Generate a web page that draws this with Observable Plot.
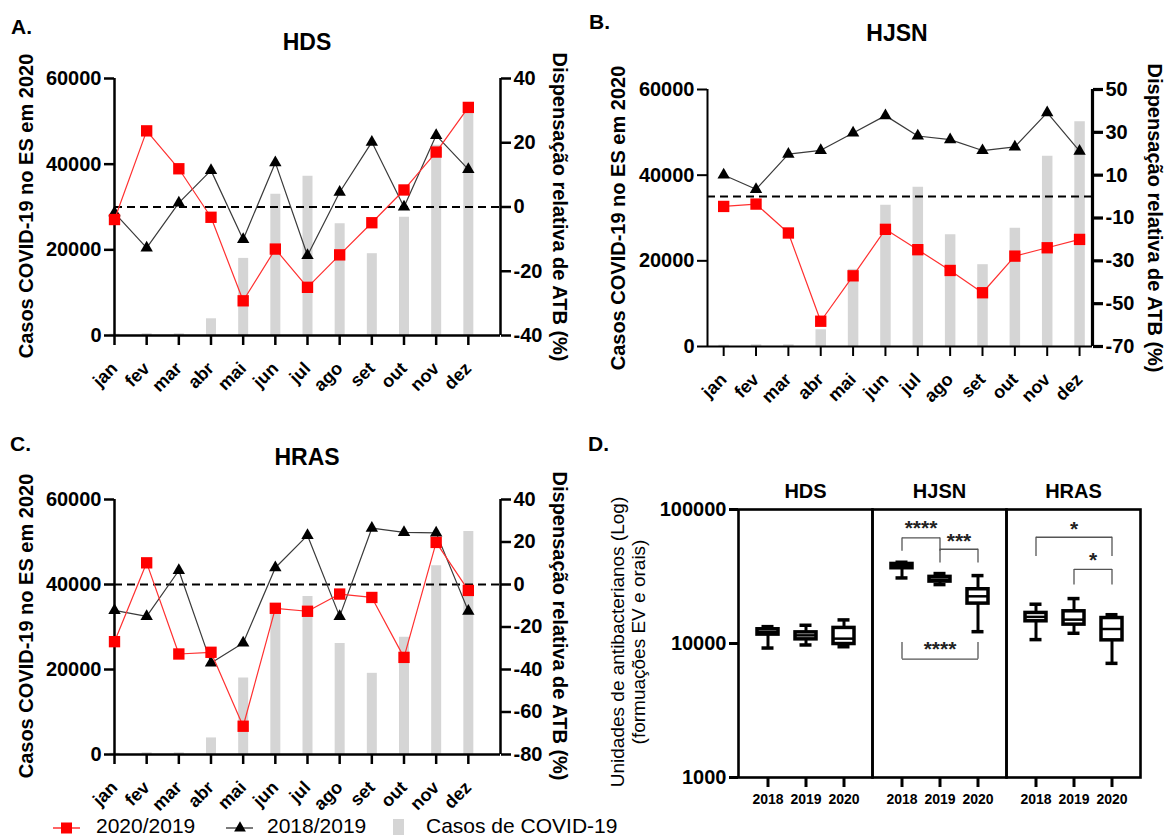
<!DOCTYPE html>
<html><head><meta charset="utf-8">
<script src="https://cdn.jsdelivr.net/npm/d3@7"></script>
<script src="https://cdn.jsdelivr.net/npm/@observablehq/plot@0.6"></script>
<style>
body{margin:0;background:#fff;}
#root{position:relative;width:1169px;height:837px;overflow:hidden;background:#fff;font-family:"Liberation Sans",Arial,Helvetica,sans-serif;}
</style></head><body><div id="root"></div>
<script>
// ---------- data ----------
const months = ["jan","fev","mar","abr","mai","jun","jul","ago","set","out","nov","dez"];
const covidCases = [300, 400, 400, 3900, 18000, 33000, 37200, 26100, 19100, 27600, 44400, 52500];

const hdsRel2020 = [-3.9, 23.7, 11.9, -3.2, -29.2, -13.1, -25.0, -14.9, -4.9, 5.3, 17.1, 31.0];
const hdsRel2018 = [-1.8, -12.7, 1.3, 11.4, -10.1, 13.8, -15.1, 4.6, 20.2, 0.0, 22.3, 11.7];
const hjsnRel2020 = [-4.6, -3.5, -17.0, -58.2, -37.0, -15.3, -24.8, -34.5, -44.9, -27.8, -23.9, -20.0];
const hjsnRel2018 = [10.1, 3.4, 19.8, 21.6, 29.7, 37.8, 28.3, 26.6, 21.5, 23.2, 39.2, 21.2];
const hrasRel2020 = [-26.9, 10.2, -32.7, -31.9, -66.7, -11.2, -12.6, -4.5, -6.1, -34.3, 19.8, -2.8];
const hrasRel2018 = [-12.2, -15.0, 6.6, -36.9, -27.5, 7.9, 23.1, -15.0, 26.5, 24.5, 24.3, -12.5];

const casesTicks = [0, 20000, 40000, 60000];
const hdsRelTicks = [-40, -20, 0, 20, 40];
const hjsnRelTicks = [-70, -50, -30, -10, 10, 30, 50];
const hrasRelTicks = [-80, -60, -40, -20, 0, 20, 40];

const hospitals = ["HDS", "HJSN", "HRAS"];
const years = ["2018", "2019", "2020"];
const boxHospital = ["HDS","HDS","HDS","HJSN","HJSN","HJSN","HRAS","HRAS","HRAS"];
const boxYear = ["2018","2019","2020","2018","2019","2020","2018","2019","2020"];
const boxMin = [9250, 9750, 9460, 30850, 27520, 12250, 10690, 11920, 7110];
const boxQ1 = [11650, 10740, 9910, 36450, 28980, 19850, 14650, 13830, 10560];
const boxMedian = [12200, 11500, 10870, 38000, 30000, 22500, 15800, 15070, 12830];
const boxQ3 = [12770, 12110, 13070, 39240, 31420, 25400, 16910, 17390, 15490];
const boxMax = [13360, 13680, 15000, 40400, 33260, 32120, 19640, 21640, 16400];
const logTicks = [1000, 10000, 100000];

const sigHospital = ["HJSN", "HJSN", "HJSN", "HRAS", "HRAS"];
const sigFrom = ["2018", "2019", "2018", "2018", "2019"];
const sigTo = ["2019", "2020", "2020", "2020", "2020"];
const sigLevel = [61400, 50500, 7640, 62100, 35700];
const sigLegEnd = [48800, 39900, 10170, 44500, 27300];
const sigLabelAt = [80400, 63900, 10000, 79100, 46700];
const sigLabel = ["****", "***", "****", "*", "*"];

// ---------- helpers ----------
const F = '"Liberation Sans", Arial, Helvetica, sans-serif';
const root = document.getElementById("root");
function place(el, left, top) {
  el.style.position = "absolute";
  el.style.left = left + "px";
  el.style.top = top + "px";
  el.style.maxWidth = "none";
  root.appendChild(el);
}
const num = d => String(d);
const monthIdx = d3.range(months.length);

function linePanel(cfg) {
  const table = monthIdx.map(i => ({i, month: months[i], cases: covidCases[i], r2020: cfg.r2020[i], r2018: cfg.r2018[i]}));
  const common = {
    width: cfg.width, height: cfg.height,
    marginLeft: cfg.mL, marginRight: cfg.mR, marginTop: cfg.mT, marginBottom: cfg.mB,
    style: {background: "none", fontFamily: F, fontWeight: "bold", overflow: "visible", color: "black"}
  };
  const back = Plot.plot({
    ...common,
    x: {type: "linear", domain: cfg.xDomain},
    y: {type: "linear", domain: [0, 60000]},
    marks: [
      Plot.ruleX(table, {x: "i", y1: 0, y2: "cases", stroke: "#d5d5d5", strokeWidth: cfg.barW}),
      Plot.axisY({ticks: casesTicks, tickFormat: num, tickSize: 10, tickPadding: 3, strokeWidth: cfg.axW, fontSize: 20, fontWeight: "bold", label: null}),
      Plot.axisX({ticks: monthIdx, tickFormat: () => "", tickSize: 10, strokeWidth: cfg.axW, label: null}),
      Plot.text(table, {x: "i", frameAnchor: "bottom", text: "month", rotate: -45, textAnchor: "end", lineAnchor: "middle",
        dx: 0, dy: 30, fontSize: 18, fontWeight: "bold", fill: "black"}),
      Plot.ruleX([cfg.xDomain[0]], {strokeWidth: cfg.axW}),
      Plot.ruleY([0], {strokeWidth: cfg.axW})
    ]
  });
  const front = Plot.plot({
    ...common,
    x: {type: "linear", domain: cfg.xDomain, axis: null},
    y: {type: "linear", domain: cfg.rDomain},
    marks: [
      Plot.ruleY([0], {stroke: "black", strokeWidth: 2, strokeDasharray: "8,5"}),
      Plot.line(table, {x: "i", y: "r2018", stroke: "#3a3a3a", strokeWidth: 1.2}),
      Plot.dot(table, {x: "i", y: "r2018", symbol: "triangle", fill: "black", r: 4.6}),
      Plot.line(table, {x: "i", y: "r2020", stroke: "#ff3030", strokeWidth: 1.2}),
      Plot.dot(table, {x: "i", y: "r2020", symbol: "square", fill: "#ff0000", r: 6.4}),
      Plot.axisY({anchor: "right", ticks: cfg.rTicks, tickFormat: num, tickSize: 10, tickPadding: 3, strokeWidth: cfg.rAxW, fontSize: 20, fontWeight: "bold", label: null}),
      Plot.ruleX([cfg.xDomain[1]], {strokeWidth: cfg.rAxW})
    ]
  });
  place(back, cfg.left, cfg.top);
  place(front, cfg.left, cfg.top);
}

linePanel({left: 0, top: 0, width: 590, height: 420, mL: 114, mR: 90, mT: 78, mB: 85,
  xDomain: [0, 12], rDomain: [-40, 40], rTicks: hdsRelTicks, r2020: hdsRel2020, r2018: hdsRel2018,
  barW: 10, axW: 2.5, rAxW: 2.5});
linePanel({left: 590, top: 0, width: 579, height: 420, mL: 117, mR: 77, mT: 89, mB: 74,
  xDomain: [-0.5, 11.4], rDomain: [-70, 50], rTicks: hjsnRelTicks, r2020: hjsnRel2020, r2018: hjsnRel2018,
  barW: 10.5, axW: 2, rAxW: 3.2});
linePanel({left: 0, top: 420, width: 590, height: 417, mL: 114, mR: 90, mT: 79, mB: 83,
  xDomain: [0, 12], rDomain: [-80, 40], rTicks: hrasRelTicks, r2020: hrasRel2020, r2018: hrasRel2018,
  barW: 10, axW: 2.5, rAxW: 2.5});

// ---------- panel D ----------
const boxTable = boxHospital.map((h, k) => ({hospital: h, year: boxYear[k], min: boxMin[k], q1: boxQ1[k], median: boxMedian[k], q3: boxQ3[k], max: boxMax[k]}));
const sigTable = sigHospital.map((h, k) => ({hospital: h, from: sigFrom[k], to: sigTo[k], level: sigLevel[k], legEnd: sigLegEnd[k], at: sigLabelAt[k], label: sigLabel[k],
  span: years.indexOf(sigTo[k]) - years.indexOf(sigFrom[k]), mid: years[(years.indexOf(sigFrom[k]) + years.indexOf(sigTo[k])) >> 1]}));
const legTable = sigTable.flatMap(s => [
  {hospital: s.hospital, x: s.from, y1: s.level, y2: s.legEnd},
  {hospital: s.hospital, x: s.to, y1: s.level, y2: s.legEnd}
]);

const plotD = Plot.plot({
  width: 569, height: 377, marginLeft: 137, marginRight: 28, marginTop: 49, marginBottom: 60,
  style: {background: "none", fontFamily: F, fontWeight: "bold", overflow: "visible", color: "black"},
  fx: {domain: hospitals, padding: 0},
  x: {type: "band", domain: years, paddingInner: 0.45, paddingOuter: 0.48},
  y: {type: "log", domain: [1000, 100000]},
  marks: [
    Plot.frame({strokeWidth: 2.6}),
    Plot.axisFx({anchor: "top", tickSize: 0, tickPadding: 12, fontSize: 20, fontWeight: "bold", label: null}),
    Plot.axisY({ticks: logTicks, tickFormat: num, tickSize: 9, tickPadding: 3, strokeWidth: 3, fontSize: 20, fontWeight: "bold", label: null}),
    Plot.axisX({tickSize: 10, tickPadding: 7, strokeWidth: 3, fontSize: 14, fontWeight: "bold", label: null}),
    Plot.ruleX(boxTable, {fx: "hospital", x: "year", y1: "min", y2: "max", strokeWidth: 3}),
    Plot.barY(boxTable, {fx: "hospital", x: "year", y1: "q1", y2: "q3", fill: "white", stroke: "black", strokeWidth: 3.5}),
    Plot.tickY(boxTable, {fx: "hospital", x: "year", y: "median", strokeWidth: 2.5}),
    Plot.tickY(boxTable, {fx: "hospital", x: "year", y: "min", strokeWidth: 3.5, insetLeft: 4.5, insetRight: 4.5}),
    Plot.tickY(boxTable, {fx: "hospital", x: "year", y: "max", strokeWidth: 3.5, insetLeft: 4.5, insetRight: 4.5}),
    Plot.link(sigTable, {fx: "hospital", x1: "from", x2: "to", y1: "level", y2: "level", stroke: "#555", strokeWidth: 1.3}),
    Plot.ruleX(legTable, {fx: "hospital", x: "x", y1: "y1", y2: "y2", stroke: "#555", strokeWidth: 1.3}),
    Plot.text(sigTable, {filter: d => d.span === 2, fx: "hospital", x: "mid", y: "at", text: "label", fontSize: 21, fontWeight: "bold", fill: "#222", dy: 6}),
    Plot.text(sigTable, {filter: d => d.span === 1, fx: "hospital", x: "from", y: "at", text: "label", fontSize: 21, fontWeight: "bold", fill: "#222", dx: 19, dy: 6})
  ]
});
place(plotD, 600, 460);

// ---------- text overlay ----------
const svg = d3.select(root).append("svg")
  .attr("width", 1169).attr("height", 837)
  .style("position", "absolute").style("left", "0px").style("top", "0px")
  .style("pointer-events", "none").style("font-family", F);

function txt(x, y, s, size, weight, anchor, rot) {
  const t = svg.append("text").text(s).attr("font-size", size).attr("font-weight", weight).attr("fill", "black")
    .attr("text-anchor", anchor || "start");
  if (rot) t.attr("transform", `translate(${x},${y}) rotate(${rot})`).attr("dominant-baseline", "central");
  else t.attr("x", x).attr("y", y);
  return t;
}
const leftTitle = "Casos COVID-19 no ES em 2020";
const rightTitle = "Dispensação relativa de ATB (%)";

txt(11, 34, "A.", 21, "bold");
txt(307, 50, "HDS", 23, "bold", "middle");
txt(26, 206, leftTitle, 20, "bold", "middle", -90);
txt(560, 207, rightTitle, 20, "bold", "middle", 90);

txt(589, 29, "B.", 21, "bold");
txt(897, 41, "HJSN", 23, "bold", "middle");
txt(618, 218, leftTitle, 20, "bold", "middle", -90);
txt(1155, 218, rightTitle, 20, "bold", "middle", 90);

txt(10, 451, "C.", 21, "bold");
txt(307, 465, "HRAS", 23, "bold", "middle");
txt(26, 626, leftTitle, 20, "bold", "middle", -90);
txt(560, 626, rightTitle, 20, "bold", "middle", 90);

txt(588, 451, "D.", 21, "bold");
txt(617, 642, "Unidades de antibacterianos (Log)", 19, "normal", "middle", -90);
txt(638.5, 642, "(formuações EV e orais)", 19, "normal", "middle", -90);

// legend
svg.append("line").attr("x1", 53).attr("x2", 80).attr("y1", 828).attr("y2", 828).attr("stroke", "#ff3030").attr("stroke-width", 1.5);
svg.append("rect").attr("x", 61).attr("y", 822.5).attr("width", 11).attr("height", 11).attr("fill", "#ff0000");
txt(96, 833, "2020/2019", 21, "normal");
svg.append("line").attr("x1", 226).attr("x2", 253).attr("y1", 828).attr("y2", 828).attr("stroke", "#222").attr("stroke-width", 1.2);
svg.append("path").attr("d", d3.symbol(d3.symbolTriangle, 60)()).attr("transform", "translate(240,828)").attr("fill", "black");
txt(267, 833, "2018/2019", 21, "normal");
svg.append("rect").attr("x", 393).attr("y", 819).attr("width", 11).attr("height", 16).attr("fill", "#d5d5d5");
txt(426, 833, "Casos de COVID-19", 21, "normal");
</script></body></html>
